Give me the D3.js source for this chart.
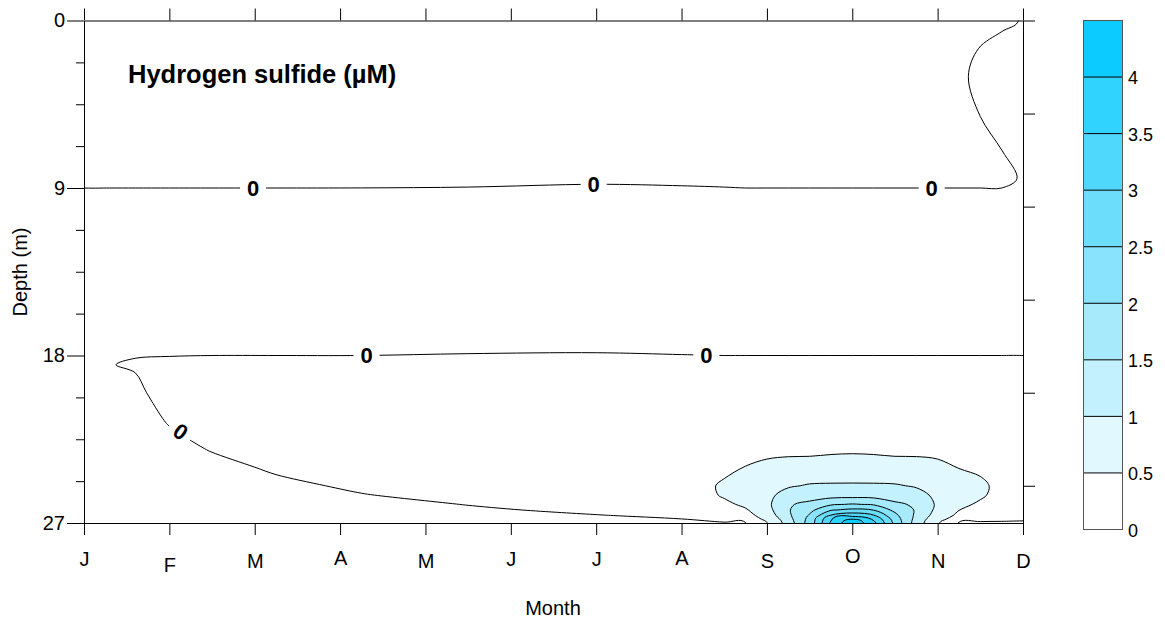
<!DOCTYPE html>
<html>
<head>
<meta charset="utf-8">
<script src="https://cdn.jsdelivr.net/npm/d3@7/dist/d3.min.js"></script>
<style>
html,body{margin:0;padding:0;background:#fff;}
svg{display:block;font-family:"Liberation Sans",Arial,Helvetica,sans-serif;}
</style>
</head>
<body>
<svg id="chart" width="1165" height="620"></svg>
<script>
// ---------------- data ----------------
const monthLabels = ["J","F","M","A","M","J","J","A","S","O","N","D"];
const monthTicks = [0,1,2,3,4,5,6,7,8,9,10,11];
const depthMajorTicks = [0, 9, 18, 27];
const depthMinorTicks = [2.25, 4.5, 6.75, 11.25, 13.5, 15.75, 20.25, 22.5, 24.75];
const depthRightTicks = [0, 5, 10, 15, 20, 25];
const levels = [0, 0.5, 1, 1.5, 2, 2.5, 3, 3.5, 4];
const legendLabels = ["0","0.5","1","1.5","2","2.5","3","3.5","4"];
const levelColors = ["#ffffff","#e0f8fe","#c3f1fd","#a6eafc","#89e3fc","#6cdefc","#4fd8fc","#2fd3fd","#0ccbfe"];

// grid node positions (month index from Jan = 0, depth in m)
const gridMonths = [0,0.3,0.6,1,1.5,2.25,3.25,4.5,6,7,7.5,7.75,8,8.25,8.5,8.75,9,9.25,9.5,9.75,10,10.25,10.5,10.75,11];
const gridDepths = [0,1.5,3,5,7,8.5,9.5,13.5,17.5,18.5,20,21.5,23,24,25,25.5,26,26.3,26.6,26.8,27];

// hydrogen sulfide (µM), one row per depth, one column per month node
const h2s = [
 [0.1,0.1,0.1,0.1,0.1, 0.1,0.1,0.1,0.1,0.1, 0.1,0.1,0.1,0.1,0.1, 0.1,0.1,0.1,0.1,0.1, 0.1,0.1,0.073,0.04,-0.01],
 [0.1,0.1,0.1,0.1,0.1, 0.1,0.1,0.1,0.1,0.1, 0.1,0.1,0.1,0.1,0.1, 0.1,0.1,0.1,0.1,0.1, 0.1,0.1,-0.0087,-0.06,-0.1],
 [0.1,0.1,0.1,0.1,0.1, 0.1,0.1,0.1,0.1,0.1, 0.1,0.1,0.1,0.1,0.1, 0.1,0.1,0.1,0.1,0.1, 0.1,0.044,-0.056,-0.1,-0.1],
 [0.1,0.1,0.1,0.1,0.1, 0.1,0.1,0.1,0.1,0.1, 0.1,0.1,0.1,0.1,0.1, 0.1,0.1,0.1,0.1,0.1, 0.1,0.1,-0.0087,-0.1,-0.1],
 [0.1,0.1,0.1,0.1,0.1, 0.1,0.1,0.1,0.1,0.1, 0.1,0.1,0.1,0.1,0.1, 0.1,0.1,0.1,0.1,0.1, 0.1,0.1,0.1,0.0026,-0.1],
 [0.1,0.1,0.1,0.1,0.1, 0.1,0.1,0.09,0.06,0.076, 0.09,0.1,0.1,0.1,0.1, 0.1,0.1,0.1,0.1,0.1, 0.1,0.1,0.1,0.1,-0.039],
 [-0.1,-0.1,-0.1,-0.1,-0.1, -0.1,-0.102,-0.11,-0.14,-0.124, -0.11,-0.1,-0.1,-0.1,-0.1, -0.1,-0.1,-0.1,-0.1,-0.1, -0.1,-0.1,-0.1,-0.1,-0.1],
 [-0.1,-0.1,-0.1,-0.1,-0.1, -0.1,-0.1,-0.1,-0.1,-0.1, -0.1,-0.1,-0.1,-0.1,-0.1, -0.1,-0.1,-0.1,-0.1,-0.1, -0.1,-0.1,-0.1,-0.1,-0.1],
 [-0.1,-0.1,-0.111,-0.122,-0.1, -0.1,-0.1,-0.067,-0.054,-0.082, -0.1,-0.1,-0.1,-0.1,-0.1, -0.1,-0.1,-0.1,-0.1,-0.1, -0.1,-0.1,-0.1,-0.1,-0.1],
 [-0.1,-0.02,0.06,0.1,0.1, 0.1,0.1,0.1,0.1,0.1, 0.1,0.1,0.1,0.1,0.1, 0.1,0.1,0.1,0.1,0.1, 0.1,0.1,0.1,0.1,0.1],
 [-0.1,-0.1,-0.15,0.3,0.1, 0.1,0.1,0.1,0.1,0.1, 0.12,0.13,0.14,0.15,0.15, 0.15,0.15,0.15,0.15,0.15, 0.14,0.13,0.12,0.11,0.1],
 [-0.1,-0.1,-0.142,0.025,0.1, 0.1,0.1,0.1,0.1,0.14, 0.18,0.2,0.22,0.23,0.24, 0.25,0.25,0.25,0.24,0.23, 0.22,0.2,0.18,0.15,0.12],
 [-0.1,-0.1,-0.1,-0.1,0.022, 0.1,0.1,0.1,0.12,0.2, 0.3,0.33,0.37,0.39,0.4, 0.41,0.42,0.41,0.4,0.39, 0.37,0.33,0.3,0.24,0.16],
 [-0.1,-0.1,-0.1,-0.1,-0.088, 0.044,0.1,0.1,0.15,0.26, 0.42,0.51,0.6,0.64,0.64, 0.69,0.71,0.69,0.64,0.645, 0.6,0.49,0.43,0.33,0.2],
 [-0.1,-0.1,-0.1,-0.1,-0.1, -0.066,0.048,0.1,0.15,0.3, 0.55,0.64,0.82,0.95,1.04, 1.05,1.05,1.05,1.04,0.96, 0.83,0.63,0.57,0.4,0.23],
 [-0.1,-0.1,-0.1,-0.1,-0.1, -0.1,-0.012,0.088,0.12,0.26, 0.54,0.63,0.88,1.18,1.28, 1.3,1.3,1.3,1.25,1.15, 0.9,0.63,0.55,0.38,0.22],
 [-0.1,-0.1,-0.1,-0.1,-0.1, -0.1,-0.094,0.0082,0.1,0.18, 0.43,0.56,0.88,1.45,1.62, 1.937,2.037,1.95,1.6,1.42, 0.92,0.58,0.45,0.3,0.18],
 [-0.1,-0.1,-0.1,-0.1,-0.1, -0.1,-0.1,-0.041,0.057,0.12, 0.33,0.47,0.82,1.46,1.85, 2.459,2.604,2.48,1.86,1.45, 0.87,0.51,0.35,0.22,0.14],
 [-0.1,-0.1,-0.1,-0.1,-0.1, -0.1,-0.1,-0.1,-0.0114,0.0456, 0.2,0.33,0.7,1.4,2.06, 3.045,3.344,3.07,2.12,1.4, 0.76,0.4,0.22,0.13,0.08],
 [-0.1,-0.1,-0.1,-0.1,-0.1, -0.1,-0.1,-0.1,-0.1,-0.005, 0.1,0.2,0.6,1.32,2.16, 3.472,4.036,3.5,2.25,1.33, 0.66,0.25,0.1,0.05,0.03],
 [-0.1,-0.1,-0.1,-0.1,-0.1, -0.1,-0.1,-0.1,-0.1,-0.05, -0.03,-0.03,0.48,1.2,2.25, 3.6,4.4,3.65,2.36,1.25, 0.55,-0.03,-0.06,-0.04,-0.04]
];

// where the "0" contour labels sit (month, depth, rotation)
const zeroLabelSpots = [
 {month:1.98, depth:9.0, angle:0},
 {month:5.97, depth:8.82, angle:0},
 {month:9.93, depth:9.0, angle:0},
 {month:3.31, depth:18.0, angle:0},
 {month:7.29, depth:17.98, angle:0},
 {month:1.13, depth:22.1, angle:35}
];

// ---------------- drawing ----------------
const W = 1165, H = 620;
const nx = gridMonths.length, ny = gridDepths.length;
h2s.forEach((r,i) => { if (r.length !== nx) throw new Error("row " + i + " has " + r.length); });
if (h2s.length !== ny) throw new Error("rows " + h2s.length);

const svg = d3.select("#chart");
const x = d3.scaleLinear().domain([0, 11]).range([84, 1023]);
const y = d3.scaleLinear().domain([0, 27]).range([20.5, 523]);

const defs = svg.append("defs");
defs.append("clipPath").attr("id","plotClip")
  .append("rect").attr("x", x(0)).attr("y", y(0)).attr("width", x(11)-x(0)).attr("height", y(27)-y(0));

const mask = defs.append("mask").attr("id","lblGap").attr("maskUnits","userSpaceOnUse")
  .attr("x",0).attr("y",0).attr("width",W).attr("height",H);
mask.append("rect").attr("width",W).attr("height",H).attr("fill","#fff");
zeroLabelSpots.forEach(s => {
  mask.append("rect").attr("x",-13).attr("y",-11).attr("width",26).attr("height",22).attr("fill","#000")
    .attr("transform",`translate(${x(s.month)},${y(s.depth)}) rotate(${s.angle})`);
});

// grid index -> data units; the padding half-cell beyond the outer nodes is pushed far outside the clip
const colToMonth = d3.scaleLinear()
  .domain([-0.5, ...d3.range(nx), nx - 0.5])
  .range([gridMonths[0] - 2, ...gridMonths, gridMonths[nx - 1] + 2]);
const rowToDepth = d3.scaleLinear()
  .domain([-0.5, ...d3.range(ny), ny - 0.5])
  .range([gridDepths[0] - 5, ...gridDepths, gridDepths[ny - 1] + 5]);
const proj = p => [x(colToMonth(p[0] - 0.5)), y(rowToDepth(p[1] - 0.5))];

const contours = d3.contours().size([nx, ny]).thresholds(levels)(h2s.flat());
const lineGen = d3.line().curve(d3.curveCatmullRomClosed.alpha(0.5));
function ringPath(ring) {
  const pts = ring.slice(0, -1).map(proj);
  const kept = [];
  pts.forEach(p => {
    const last = kept[kept.length - 1];
    if (!last || Math.hypot(p[0] - last[0], p[1] - last[1]) >= 5) kept.push(p);
  });
  if (kept.length > 3) {
    const a = kept[0], b = kept[kept.length - 1];
    if (Math.hypot(a[0] - b[0], a[1] - b[1]) < 5) kept.pop();
  }
  return lineGen(kept.length >= 3 ? kept : pts);
}
const multiPath = mp => mp.coordinates.map(poly => poly.map(ringPath).join("")).join("");

const plot = svg.append("g").attr("clip-path","url(#plotClip)");
plot.append("rect").attr("x", x(0)).attr("y", y(0)).attr("width", x(11)-x(0)).attr("height", y(27)-y(0)).attr("fill", levelColors[0]);

contours.forEach((c, i) => {
  if (c.value <= 0) return;
  plot.append("path").attr("d", multiPath(c)).attr("fill", levelColors[i]).attr("fill-rule","evenodd").attr("stroke","none");
});
const lines = plot.append("g").attr("mask","url(#lblGap)");
contours.forEach(c => {
  lines.append("path").attr("d", multiPath(c)).attr("fill","none").attr("stroke","#000").attr("stroke-width",1);
});

// contour labels
zeroLabelSpots.forEach(s => {
  svg.append("text").text("0")
    .attr("transform",`translate(${x(s.month)},${y(s.depth)}) rotate(${s.angle})`)
    .attr("text-anchor","middle").attr("dominant-baseline","central")
    .attr("font-size",22).attr("font-weight","bold").attr("fill","#000");
});

// axes
const styleAxis = g => { g.attr("font-size",20).attr("font-family",'"Liberation Sans",Arial,sans-serif'); g.selectAll("line,path").attr("stroke","#000"); };

svg.append("g").attr("transform",`translate(${x(0)},0)`)
  .call(d3.axisLeft(y).tickValues(depthMajorTicks).tickSize(17).tickPadding(2).tickSizeOuter(0))
  .call(styleAxis);
svg.append("g").attr("transform",`translate(${x(0)},0)`)
  .call(d3.axisLeft(y).tickValues(depthMinorTicks).tickSize(8).tickFormat("").tickSizeOuter(0))
  .call(g => g.select(".domain").remove()).call(styleAxis);
svg.append("g").attr("transform",`translate(0,${y(0)})`)
  .call(d3.axisTop(x).tickValues(monthTicks).tickSize(12).tickFormat("").tickSizeOuter(0))
  .call(styleAxis);
svg.append("g").attr("transform",`translate(${x(11)},0)`)
  .call(d3.axisRight(y).tickValues(depthRightTicks).tickSize(12).tickFormat("").tickSizeOuter(0))
  .call(styleAxis);
const labelShift = [0, 6, 2, -1, 2, 0, 0, -1, 2, -3, 2, 2];
svg.append("g").attr("transform",`translate(0,${y(27)})`)
  .call(d3.axisBottom(x).tickValues(monthTicks).tickSize(12).tickPadding(17).tickFormat(i => monthLabels[i]).tickSizeOuter(0))
  .call(styleAxis)
  .call(g => g.selectAll(".tick text").attr("y", d => 29 + labelShift[d]));

// axis titles and chart title
svg.append("text").text("Month").attr("x", 553).attr("y", 615).attr("text-anchor","middle").attr("font-size",20);
svg.append("text").text("Depth (m)").attr("transform","translate(27,272) rotate(-90)").attr("text-anchor","middle").attr("font-size",20);
svg.append("text").text("Hydrogen sulfide (µM)").attr("x",128).attr("y",83).attr("font-size",25.5).attr("font-weight","bold");

// colour legend
const ly = d3.scaleLinear().domain([0, 4.5]).range([529.5, 20.5]);
const lg = svg.append("g");
levels.forEach((lv, i) => {
  lg.append("rect").attr("x",1083.5).attr("y", ly(lv + 0.5)).attr("width",39).attr("height", ly(lv) - ly(lv + 0.5)).attr("fill", levelColors[i]);
});
levels.slice(1).forEach(lv => {
  lg.append("line").attr("x1",1083.5).attr("x2",1122.5).attr("y1",ly(lv)).attr("y2",ly(lv)).attr("stroke","#000");
});
lg.append("rect").attr("x",1083.5).attr("y",ly(4.5)).attr("width",39).attr("height",ly(0)-ly(4.5)).attr("fill","none").attr("stroke","#555");
svg.append("g").attr("transform","translate(1123,1)")
  .call(d3.axisRight(ly).tickValues(levels).tickSize(0).tickPadding(5).tickFormat((d,i) => legendLabels[i]))
  .call(g => g.select(".domain").remove())
  .call(g => g.attr("font-size",18).attr("font-family",'"Liberation Sans",Arial,sans-serif'));
</script>
</body>
</html>
